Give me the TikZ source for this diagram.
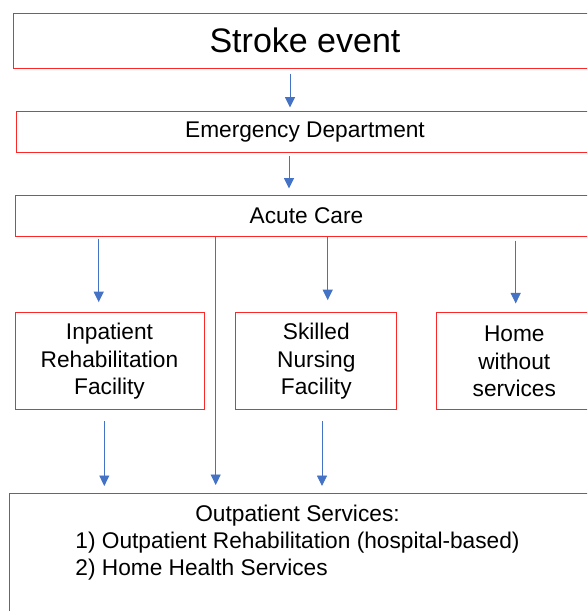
\documentclass[tikz,border=0pt]{standalone}
\usepackage{fontspec}
\setmainfont{Liberation Sans}
\usetikzlibrary{arrows.meta,calc}
\definecolor{boxred}{RGB}{250,40,40}
\definecolor{arrblue}{RGB}{68,114,196}
\tikzset{
  box/.style={draw=boxred, line width=1pt, inner sep=0pt, align=center,
    font=\fontsize{22.7}{27.3}\selectfont},
  arr/.style={draw=arrblue, line width=0.9pt, -{Triangle[length=10.5pt,width=10pt]}},
}
\begin{document}
\begin{tikzpicture}[x=1pt,y=-1pt]
\clip (0,0) rectangle (587,611);
\fill[white] (0,0) rectangle (587,611);
\node[box, minimum width=584pt, minimum height=54.7pt, font=\fontsize{34}{40}\selectfont] (stroke) at (305,40.7) {Stroke event};
\node[box, minimum width=578pt, minimum height=41pt] (ed) at (305,132.2) {Emergency Department};
\node[box, minimum width=583pt, minimum height=41pt] (ac) at (306.5,215.5) {Acute Care};
\node[box, minimum width=189pt, minimum height=97.3pt] (irf) at (109.5,361.3) {Inpatient\\Rehabilitation\\Facility};
\node[box, minimum width=160.7pt, minimum height=97.3pt] (snf) at (316.3,361.3) {Skilled\\Nursing\\Facility};
\node[box, minimum width=155.6pt, minimum height=97.3pt] (home) at (514.3,361.3) {Home\\without\\services};
\node[box, minimum width=582pt, minimum height=160pt, anchor=north] (os) at (300,493.3) {};
\node[anchor=north, inner sep=0pt, font=\fontsize{22.7}{27.3}\selectfont] (ostext) at ($(os.north)+(-2.5,8.6)$)
  {\begin{tabular}{@{}l@{}}\multicolumn{1}{@{}c@{}}{Outpatient Services:}\\1) Outpatient Rehabilitation (hospital-based)\\2) Home Health Services\end{tabular}};
\coordinate (x1) at (290,0);
\coordinate (x2) at (289,0);
\coordinate (x3) at (98.7,0);
\coordinate (x4) at (215.7,0);
\coordinate (x5) at (327.7,0);
\coordinate (x6) at (515.7,0);
\coordinate (x7) at (104.3,0);
\coordinate (x8) at (322,0);
\draw[arr, shorten <=5pt, shorten >=3.7pt] (stroke.south -| x1) -- (ed.north -| x1);
\draw[arr, shorten <=2.3pt, shorten >=6pt] (ed.south -| x2) -- (ac.north -| x2);
\draw[arr, shorten <=2pt, shorten >=10pt] (ac.south -| x3) -- (irf.north -| x3);
\draw[arr] (ac.south -| x4) -- ([yshift=8.3pt]os.north -| x4);
\draw[arr, shorten >=12pt] (ac.south -| x5) -- (snf.north -| x5);
\draw[arr, shorten <=4pt, shorten >=8.7pt] (ac.south -| x6) -- (home.north -| x6);
\draw[arr, shorten <=11pt, shorten >=7.3pt] (irf.south -| x7) -- (os.north -| x7);
\draw[arr, shorten <=11pt, shorten >=7.3pt] (snf.south -| x8) -- (os.north -| x8);
\end{tikzpicture}
\end{document}
